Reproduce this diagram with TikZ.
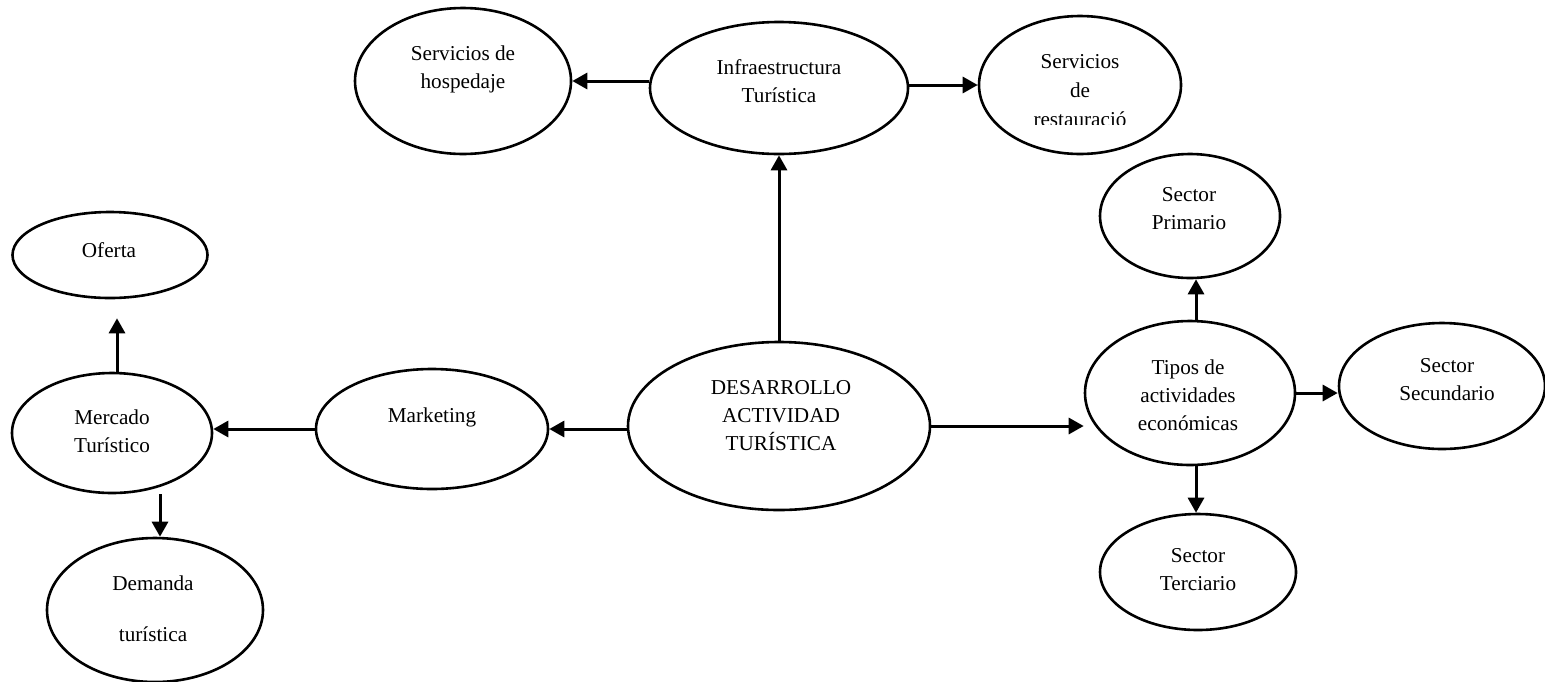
\documentclass[tikz,border=0pt]{standalone}
\usepackage{fontspec}
\setmainfont{Liberation Serif}
\usetikzlibrary{arrows.meta,shapes.geometric}
\tikzset{
  ell/.style={draw=black, line width=1.3pt, ellipse, inner sep=0pt, fill=white},
  txt/.style={align=center, inner sep=0pt, font=\fontsize{10.6pt}{14pt}\selectfont},
  arr/.style={-{Triangle[length=7.5pt,width=8pt]}, line width=1.5pt}
}
\begin{document}
\begin{tikzpicture}[x=0.5pt,y=-0.5pt]
\useasboundingbox[fill=white] (0,0) rectangle (1545,681);
% ellipses
\node[ell, minimum width=216pt*0.5, minimum height=146pt*0.5] (hosp) at (463,81) {};
\node[ell, minimum width=258pt*0.5, minimum height=132pt*0.5] (infra) at (779,88) {};
\node[ell, minimum width=202pt*0.5, minimum height=138pt*0.5] (rest) at (1080,85) {};
\node[ell, minimum width=195pt*0.5, minimum height=86pt*0.5] (ofe) at (110,255) {};
\node[ell, minimum width=200pt*0.5, minimum height=120pt*0.5] (merc) at (112,433) {};
\node[ell, minimum width=216pt*0.5, minimum height=144pt*0.5] (dem) at (155,610) {};
\node[ell, minimum width=232pt*0.5, minimum height=120pt*0.5] (mkt) at (432,429) {};
\node[ell, minimum width=302pt*0.5, minimum height=168pt*0.5] (des) at (779,426) {};
\node[ell, minimum width=210pt*0.5, minimum height=144pt*0.5] (tipos) at (1190,393) {};
\node[ell, minimum width=180pt*0.5, minimum height=124pt*0.5] (prim) at (1190,216) {};
\node[ell, minimum width=206pt*0.5, minimum height=126pt*0.5] (sec) at (1442,386) {};
\node[ell, minimum width=196pt*0.5, minimum height=116pt*0.5] (terc) at (1198,572) {};
% texts
\node[txt] (hosp-t) at (463,69) {Servicios de\\hospedaje};
\node[txt] (infra-t) at (779,81) {Infraestructura\\Turística};
\begin{scope}
\clip (960,0) rectangle (1200,124.5);
\node[txt, font=\fontsize{10.6pt}{14.5pt}\selectfont] (rest-t) at (1080,91) {Servicios\\de\\restauració};
\end{scope}
\node[txt] (ofe-t) at (109,250) {Oferta};
\node[txt] (merc-t) at (112,431) {Mercado\\Turístico};
\node[txt] (dem-t) at (153,609) {Demanda\\[11.5pt]turística};
\node[txt] (mkt-t) at (432,417) {Marketing};
\node[txt] (des-t) at (781,416) {DESARROLLO\\ACTIVIDAD\\TURÍSTICA};
\node[txt] (tipos-t) at (1188,395) {Tipos de\\actividades\\económicas};
\node[txt] (prim-t) at (1189,209) {Sector\\Primario};
\node[txt] (sec-t) at (1447,380) {Sector\\Secundario};
\node[txt] (terc-t) at (1198,570) {Sector\\Terciario};
% connectors
\draw[arr] (hosp.east -| infra.west) -- (hosp.east);
\draw[arr] (rest.west -| infra.east) -- (rest.west);
\draw[arr] (des.north) -- (infra.south);
\draw[arr] (des.west |- mkt.east) -- (mkt.east);
\draw[arr] (mkt.west) -- (mkt.west -| merc.east);
\draw[arr, shorten >=9.5pt, transform canvas={xshift=2.5pt}] (merc.north) -- (merc.north |- ofe.south);
\draw[arr, transform canvas={xshift=2.5pt}] (merc.south -| dem.north) -- (dem.north);
\draw[arr] (des.east) -- (des.east -| tipos.west);
\draw[arr, transform canvas={xshift=3pt}] (tipos.north) -- (prim.south);
\draw[arr] (tipos.east) -- (tipos.east -| sec.west);
\draw[arr, transform canvas={xshift=3pt}] (tipos.south) -- (tipos.south |- terc.north);
\end{tikzpicture}
\end{document}
